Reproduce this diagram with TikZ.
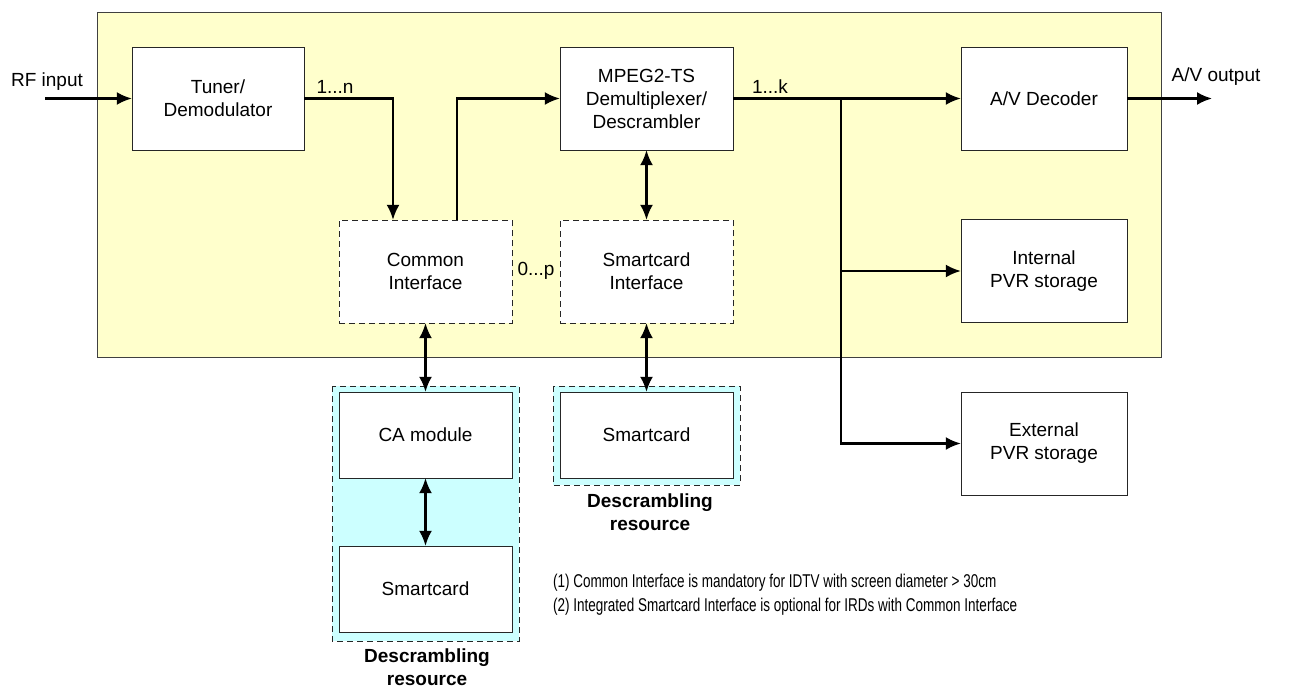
\documentclass[tikz,border=0pt]{standalone}
\usepackage{fontspec}
\setmainfont{Liberation Sans}
\newfontfamily\notefont{Liberation Sans}[FakeStretch=0.73]
\usetikzlibrary{arrows.meta}

\definecolor{stbyellow}{HTML}{FFFFCC}
\definecolor{stbcyan}{HTML}{CCFFFF}

\tikzset{
  txt/.style={font=\fontsize{19}{23}\selectfont},
  blk/.style={txt, draw=black!85, fill=white, align=center, inner sep=0pt,
    minimum width=173pt, minimum height=103pt},
  dblk/.style={blk, dash pattern=on 6pt off 4pt},
  arr/.style={line width=2.2pt, -{Latex[length=15pt,width=13pt]}},
  darr/.style={line width=2.2pt, {Latex[length=15pt,width=13pt]}-{Latex[length=15pt,width=13pt]}},
  res/.style={draw=black!85, fill=stbcyan, dash pattern=on 6pt off 4pt}
}

\begin{document}
\begin{tikzpicture}[x=1pt,y=-1pt]
\useasboundingbox (0,0) rectangle (1292,688);

\draw[draw=black!75, fill=stbyellow] (97,12) rectangle (1161,357);
\draw[res] (332,386) rectangle (519,641);
\draw[res] (553,386) rectangle (740,485);

\node[blk, minimum width=172pt] (tuner) at (218,98.5) {Tuner/\\Demodulator};
\node[blk] (mpeg) at (646.5,98.5) {MPEG2-TS\\Demultiplexer/\\Descrambler};
\node[blk, minimum width=166pt] (avdec) at (1044,98.5) {A/V Decoder};
\node[dblk] (ci) at (425.5,271.5) {Common\\Interface};
\node[dblk] (sci) at (646.5,271.5) {Smartcard\\Interface};
\node[blk, minimum width=166pt] (intpvr) at (1044,271) {Internal\\PVR storage};
\node[blk, minimum width=166pt] (extpvr) at (1044,443.5) {External\\PVR storage};
\node[blk, minimum height=86pt] (camod) at (425.5,435) {CA module};
\node[blk, minimum height=86pt] (card) at (425.5,589) {Smartcard};
\node[blk, minimum height=86pt] (sccard) at (646.5,435) {Smartcard};

\coordinate (rfin) at (45,98.5);
\coordinate (avout) at (1212,98.5);
\coordinate (split) at (841,98.5);

\node[txt] (rflbl) at (47,82) {RF input};
\node[txt] (avlbl) at (1216,77) {A/V output};
\node[txt] (nlbl) at (335,87) {1...n};
\node[txt] (klbl) at (770,87) {1...k};
\node[txt] (plbl) at (536,271) {0...p};

\node[txt, font=\fontsize{19}{23}\selectfont\bfseries, align=center] (res1) at (427,667) {Descrambling\\resource};
\node[txt, font=\fontsize{19}{23}\selectfont\bfseries, align=center] (res2) at (650,512) {Descrambling\\resource};

\node[anchor=west, align=left, inner sep=0pt, font=\notefont\fontsize{18.5}{24}\selectfont] (notes) at (553,595)
  {(1) Common Interface is mandatory for IDTV with screen diameter > 30cm\\
   (2) Integrated Smartcard Interface is optional for IRDs with Common Interface};

\draw[arr] (rfin) -- (tuner);
\draw[arr] (tuner.east) -| ([xshift=-32.5pt]ci.north);
\draw[arr] ([xshift=31.5pt]ci.north) |- (mpeg.west);
\draw[arr] (mpeg.east) -- (avdec.west);
\draw[arr] (avdec.east) -- (avout);
\draw[arr] (split) |- (intpvr.west);
\draw[arr] (split) |- (extpvr.west);
\draw[darr] (mpeg) -- (sci);
\draw[darr] (ci) -- (camod);
\draw[darr] (camod) -- (card);
\draw[darr] (sci) -- (sccard);

\end{tikzpicture}
\end{document}
